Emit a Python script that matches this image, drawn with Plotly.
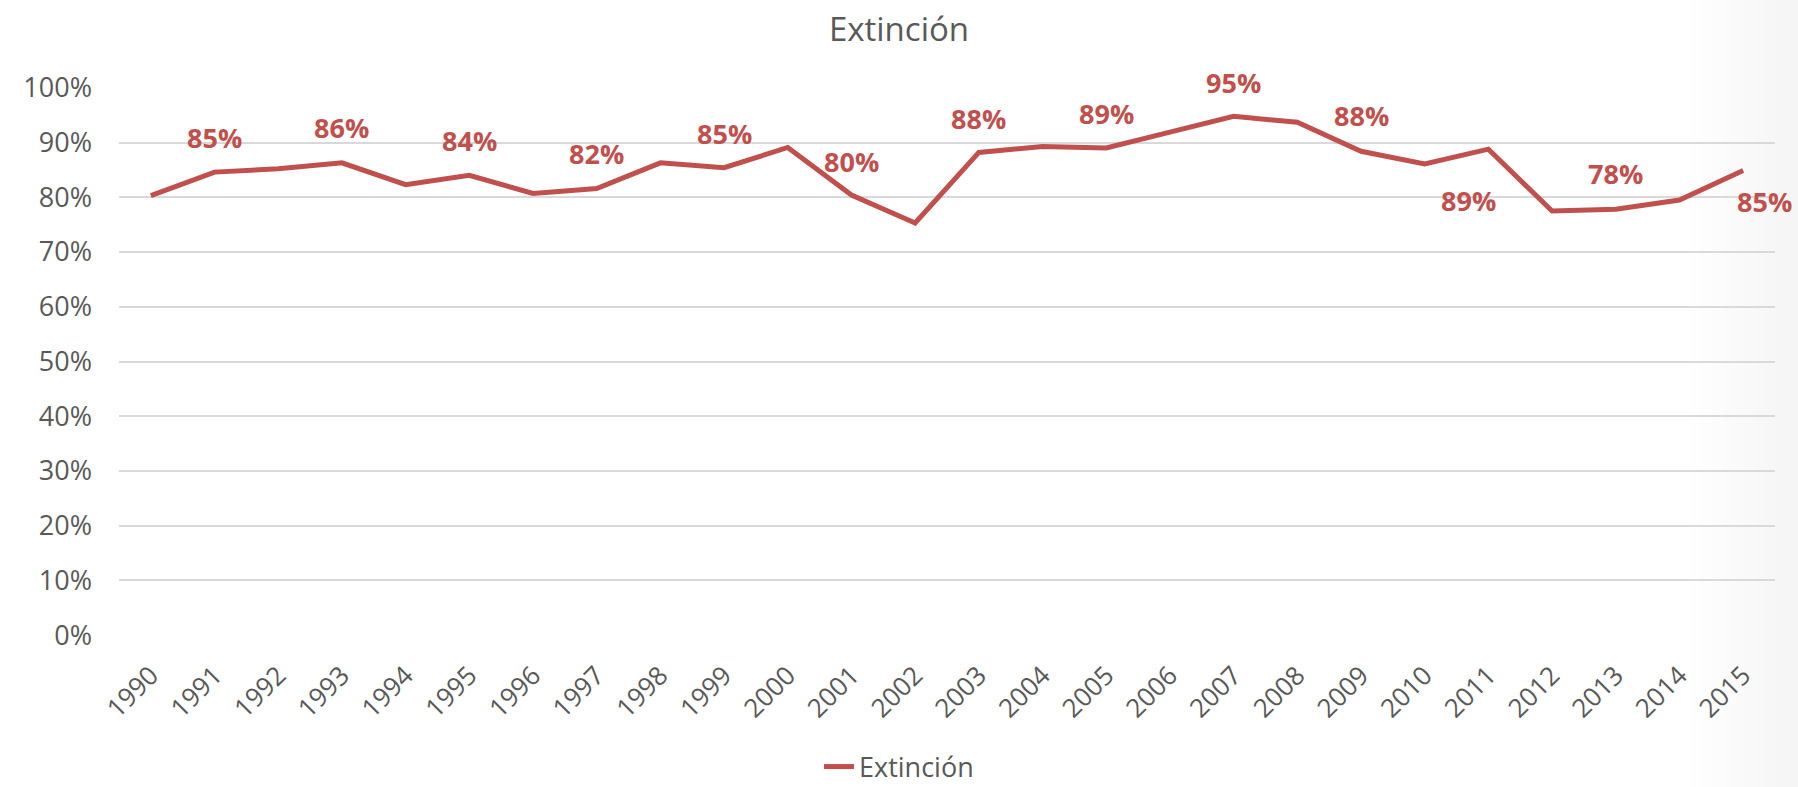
import plotly.graph_objects as go

# Annual extinction rate, 1990-2015
years = [str(y) for y in range(1990, 2016)]
extincion = [
    0.803, 0.846, 0.852, 0.863, 0.823, 0.840, 0.807, 0.816, 0.863, 0.854,
    0.891, 0.804, 0.753, 0.882, 0.893, 0.890, 0.919, 0.948, 0.937, 0.884,
    0.861, 0.888, 0.775, 0.778, 0.795, 0.849,
]
y_ticks = [0, 0.1, 0.2, 0.3, 0.4, 0.5, 0.6, 0.7, 0.8, 0.9, 1.0]
y_tick_text = [f"{round(t * 100)}%" for t in y_ticks]

# Years that carry a value label, with the label's offset from its point (px)
label_years = ["1991", "1993", "1995", "1997", "1999", "2001", "2003",
               "2005", "2007", "2009", "2011", "2013", "2015"]
label_dx = [0, 0, 0, 0, 0, 0, 0, 0, 0, 0, -20, 0, 21]
label_dy = [35, 35, 35, 35, 34, 34, 34, 35, 34, 36, -51, 36, -31]

RED = "#c0504d"
GREY_TXT = "#595959"
FONT = "Open Sans"

W, H = 1798, 787
ML, MR, MT, MB = 119, 23, 87, 151
PW = W - ML - MR
PH = H - MT - MB

fig = go.Figure()
fig.add_trace(go.Scatter(
    x=years, y=extincion, mode="lines", name="Extinción",
    line=dict(color=RED, width=5),
    hoverinfo="x+y",
))

# value labels; x given as the category index so the year strings
# are not read as numeric positions
for yr, dx, dy in zip(label_years, label_dx, label_dy):
    i = years.index(yr)
    v = extincion[i]
    fig.add_annotation(
        x=i, y=v, xref="x", yref="y",
        text=f"<b>{round(v * 100)}%</b>", showarrow=False,
        xshift=dx, yshift=dy,
        font=dict(family=FONT, size=27, color=RED),
    )

# faint grey shading along the right edge of the slide
strips = 10
for k in range(strips):
    px0 = 1690 + k * ((W - 1690) / strips)
    fig.add_shape(
        type="rect", xref="paper", yref="paper",
        x0=(px0 - ML) / PW, x1=(W - ML) / PW,
        y0=-MB / PH, y1=1 + MT / PH,
        line=dict(width=0),
        fillcolor="rgba(0,0,0,0.0034)", layer="below",
    )

fig.update_layout(
    width=W, height=H, autosize=False,
    margin=dict(l=ML, r=MR, t=MT, b=MB, autoexpand=False),
    paper_bgcolor="white", plot_bgcolor="rgba(0,0,0,0)",
    title=dict(
        text="Extinción", x=0.5, xanchor="center",
        y=1 - 29 / H, yanchor="middle",
        font=dict(family=FONT, size=33, color=GREY_TXT),
    ),
    showlegend=True,
    legend=dict(
        orientation="h", x=(W / 2 - ML) / PW, xanchor="center",
        y=-(767 - (H - MB)) / PH, yanchor="middle",
        font=dict(family=FONT, size=27, color=GREY_TXT),
    ),
    xaxis=dict(
        type="category", range=[-0.5, 25.5], showgrid=False,
        showline=False, zeroline=False, ticks="",
        tickangle=-45, ticklabelstandoff=18,
        tickfont=dict(family=FONT, size=26, color=GREY_TXT),
    ),
    yaxis=dict(
        range=[-0.0015, 1.0015], tickvals=y_ticks, ticktext=y_tick_text,
        showgrid=True, gridcolor="#d9d9d9", gridwidth=1.5,
        zeroline=False, showline=False, ticks="",
        ticklabelstandoff=26,
        tickfont=dict(family=FONT, size=27, color=GREY_TXT),
    ),
)

fig.write_html("out.html")
